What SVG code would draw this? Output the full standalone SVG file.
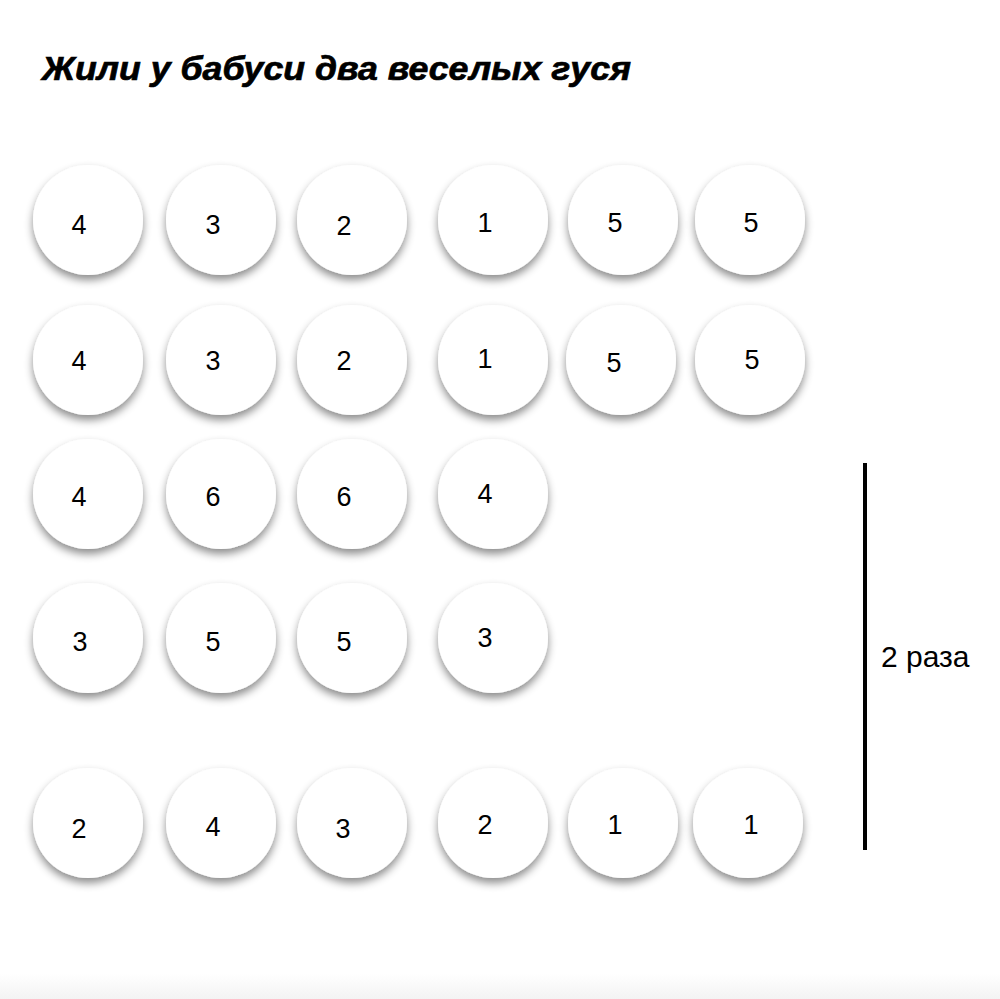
<svg xmlns="http://www.w3.org/2000/svg" width="1000" height="999" viewBox="0 0 1000 999">
  <defs>
    <filter id="sh" x="-30%" y="-30%" width="160%" height="170%">
      <feDropShadow dx="0" dy="5" stdDeviation="4" flood-color="#000" flood-opacity="0.45"/>
    </filter>
    <linearGradient id="band" x1="0" y1="0" x2="0" y2="1">
      <stop offset="0" stop-color="#ffffff"/>
      <stop offset="1" stop-color="#f3f3f3"/>
    </linearGradient>
  </defs>
  <style>
    .c { fill: #ffffff; filter: url(#sh); }
    .n { font-family: "Liberation Sans", Arial, sans-serif; font-size: 27px; fill: #000; text-anchor: middle; }
    .title { font-family: "Liberation Sans", Arial, sans-serif; font-size: 33px; font-weight: bold; font-style: italic; fill: #000; stroke: #000; stroke-width: 0.7px; }
    .lbl { font-family: "Liberation Sans", Arial, sans-serif; font-size: 30px; fill: #000; }
  </style>
  <rect x="0" y="0" width="1000" height="999" fill="#ffffff"/>
  <rect x="0" y="974" width="1000" height="25" fill="url(#band)"/>

  <text class="title" x="42" y="80" textLength="589" lengthAdjust="spacingAndGlyphs">Жили у бабуси два веселых гуся</text>

  <!-- row 1 -->
  <g id="r1c1"><circle class="c" cx="88" cy="220" r="55"/><text class="n" x="79" y="234">4</text></g>
  <g id="r1c2"><circle class="c" cx="221" cy="220" r="55"/><text class="n" x="213" y="234">3</text></g>
  <g id="r1c3"><circle class="c" cx="352" cy="220" r="55"/><text class="n" x="344" y="235">2</text></g>
  <g id="r1c4"><circle class="c" cx="493" cy="220" r="55"/><text class="n" x="485" y="232">1</text></g>
  <g id="r1c5"><circle class="c" cx="623" cy="220" r="55"/><text class="n" x="615" y="232">5</text></g>
  <g id="r1c6"><circle class="c" cx="750" cy="220" r="55"/><text class="n" x="751" y="232">5</text></g>

  <!-- row 2 -->
  <g id="r2c1"><circle class="c" cx="88" cy="360" r="55"/><text class="n" x="79" y="370">4</text></g>
  <g id="r2c2"><circle class="c" cx="221" cy="360" r="55"/><text class="n" x="213" y="370">3</text></g>
  <g id="r2c3"><circle class="c" cx="352" cy="360" r="55"/><text class="n" x="344" y="370">2</text></g>
  <g id="r2c4"><circle class="c" cx="493" cy="360" r="55"/><text class="n" x="485" y="368">1</text></g>
  <g id="r2c5"><circle class="c" cx="621" cy="360" r="55"/><text class="n" x="614" y="372">5</text></g>
  <g id="r2c6"><circle class="c" cx="750" cy="360" r="55"/><text class="n" x="752" y="369">5</text></g>

  <!-- row 3 -->
  <g id="r3c1"><circle class="c" cx="88" cy="494" r="55"/><text class="n" x="79" y="506">4</text></g>
  <g id="r3c2"><circle class="c" cx="221" cy="494" r="55"/><text class="n" x="213" y="506">6</text></g>
  <g id="r3c3"><circle class="c" cx="352" cy="494" r="55"/><text class="n" x="344" y="506">6</text></g>
  <g id="r3c4"><circle class="c" cx="493" cy="494" r="55"/><text class="n" x="485" y="503">4</text></g>

  <!-- row 4 -->
  <g id="r4c1"><circle class="c" cx="88" cy="638" r="55"/><text class="n" x="80" y="651">3</text></g>
  <g id="r4c2"><circle class="c" cx="221" cy="638" r="55"/><text class="n" x="213" y="651">5</text></g>
  <g id="r4c3"><circle class="c" cx="352" cy="638" r="55"/><text class="n" x="344" y="651">5</text></g>
  <g id="r4c4"><circle class="c" cx="493" cy="638" r="55"/><text class="n" x="485" y="647">3</text></g>

  <!-- row 5 -->
  <g id="r5c1"><circle class="c" cx="88" cy="823" r="55"/><text class="n" x="79" y="838">2</text></g>
  <g id="r5c2"><circle class="c" cx="221" cy="823" r="55"/><text class="n" x="213" y="836">4</text></g>
  <g id="r5c3"><circle class="c" cx="352" cy="823" r="55"/><text class="n" x="343" y="838">3</text></g>
  <g id="r5c4"><circle class="c" cx="493" cy="823" r="55"/><text class="n" x="485" y="834">2</text></g>
  <g id="r5c5"><circle class="c" cx="623" cy="823" r="55"/><text class="n" x="615" y="834">1</text></g>
  <g id="r5c6"><circle class="c" cx="748" cy="823" r="55"/><text class="n" x="751" y="834">1</text></g>

  <g id="connectors">
    <line x1="865" y1="463" x2="865" y2="850" stroke="#000" stroke-width="4"/>
  </g>
  <g id="label-2raza"><text class="lbl" x="881" y="667">2 раза</text></g>
</svg>
